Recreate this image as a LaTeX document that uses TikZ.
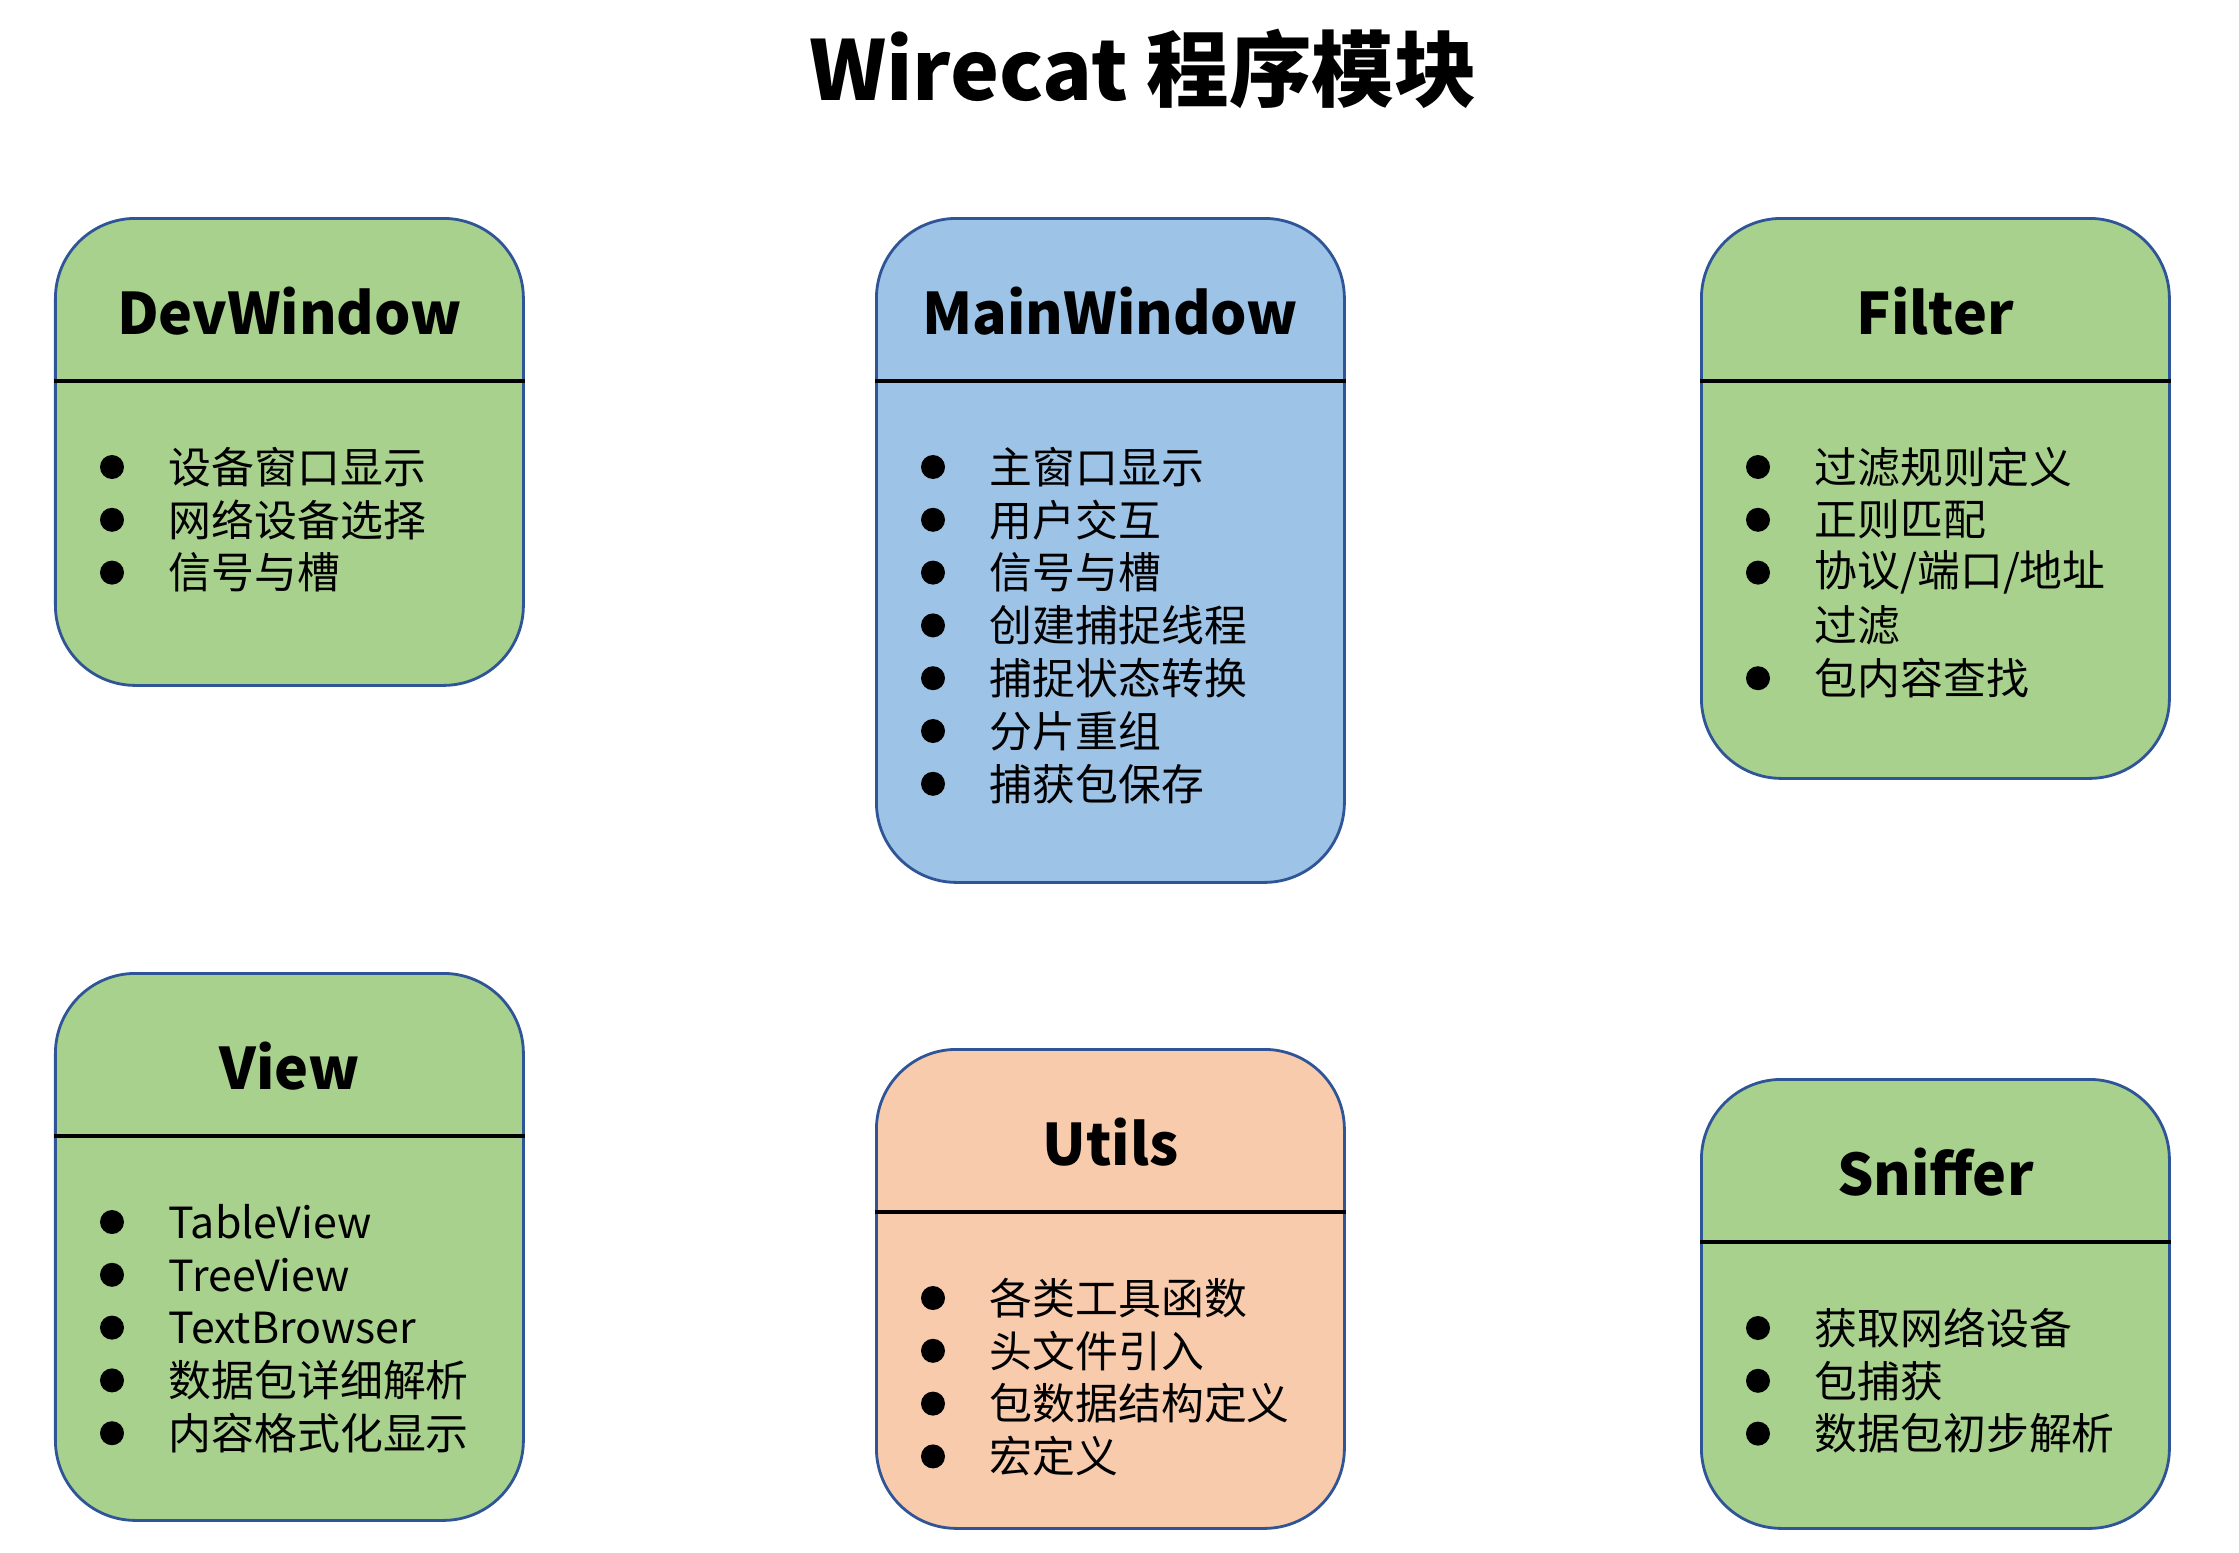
\documentclass[tikz,border=0pt]{standalone}
\usepackage{fontspec}
\setmainfont{Noto Sans CJK SC}
\usepackage{tikz}
\usetikzlibrary{calc,positioning}
\definecolor{modgreen}{HTML}{A9D18E}
\definecolor{modblue}{HTML}{9DC3E6}
\definecolor{modorange}{HTML}{F8CBAD}
\definecolor{modline}{HTML}{2F5597}
\tikzset{module/.style={draw=modline,line width=0.8pt,rounded corners=0.8cm,minimum width=4.68cm,anchor=north west,inner sep=0pt},
  modtitle/.style={font=\fontsize{16.3}{18}\selectfont\bfseries},
  item/.style={anchor=west,inner sep=0pt,font=\fontsize{12.2}{14}\selectfont},
  divider/.style={line width=1.1pt,black}}

\begin{document}
\begin{tikzpicture}
    \useasboundingbox (0,0) rectangle (22.39,-15.53);
    \node[font=\fontsize{23.5}{26}\selectfont\bfseries] (title) at (11.43,-0.69) {Wirecat 程序模块};
    % top row
    \node[module,fill=modgreen,minimum height=4.67cm] (dev) at (0.54,-2.17) {};
    \node[module,fill=modblue,minimum height=6.64cm] (main) at (8.75,-2.17) {};
    \node[module,fill=modgreen,minimum height=5.60cm] (filter) at (17.00,-2.17) {};
    % bottom row
    \node[module,fill=modgreen,minimum height=5.47cm] (view) at (0.54,-9.72) {};
    \node[module,fill=modorange,minimum height=4.79cm] (utils) at (8.75,-10.48) {};
    \node[module,fill=modgreen,minimum height=4.49cm] (sniffer) at (17.00,-10.78) {};
    \foreach \m/\t in {dev/DevWindow,main/MainWindow,filter/Filter,view/View,utils/Utils,sniffer/Sniffer}{
        \draw[divider] ($(\m.north west)+(0,-1.64)$) -- ($(\m.north east)+(0,-1.64)$);
        \node[modtitle] (\m-title) at ($(\m.north)+(0,-0.94)$) {\t};
    }
    % items
    \foreach \t [count=\i] in {设备窗口显示,网络设备选择,信号与槽}
        \node[item] (dev-\i) at ($(dev.north west)+(1.14,-2.5-0.528*\i+0.528)$) {\t};
    \foreach \t [count=\i] in {主窗口显示,用户交互,信号与槽,创建捕捉线程,捕捉状态转换,分片重组,捕获包保存}
        \node[item] (main-\i) at ($(main.north west)+(1.14,-2.5-0.528*\i+0.528)$) {\t};
    \foreach \t [count=\i] in {过滤规则定义,正则匹配,{协议/端口/地址},过滤,包内容查找}
        \node[item] (filter-\i) at ($(filter.north west)+(1.14,-2.5-0.528*\i+0.528)$) {\t};
    \foreach \t [count=\i] in {TableView,TreeView,TextBrowser,数据包详细解析,内容格式化显示}
        \node[item] (view-\i) at ($(view.north west)+(1.14,-2.5-0.528*\i+0.528)$) {\t};
    \foreach \t [count=\i] in {各类工具函数,头文件引入,包数据结构定义,宏定义}
        \node[item] (utils-\i) at ($(utils.north west)+(1.14,-2.5-0.528*\i+0.528)$) {\t};
    \foreach \t [count=\i] in {获取网络设备,包捕获,数据包初步解析}
        \node[item] (sniffer-\i) at ($(sniffer.north west)+(1.14,-2.5-0.528*\i+0.528)$) {\t};
    % bullets
    \foreach \m/\n in {dev/3,main/7,view/5,utils/4,sniffer/3}
        \foreach \i in {1,...,\n}
            \fill ($(\m.north west)+(0.58,-2.5-0.528*\i+0.528)$) circle (0.12);
    \foreach \i in {1,2,3,5}
        \fill ($(filter.north west)+(0.58,-2.5-0.528*\i+0.528)$) circle (0.12);
\end{tikzpicture}
\end{document}
